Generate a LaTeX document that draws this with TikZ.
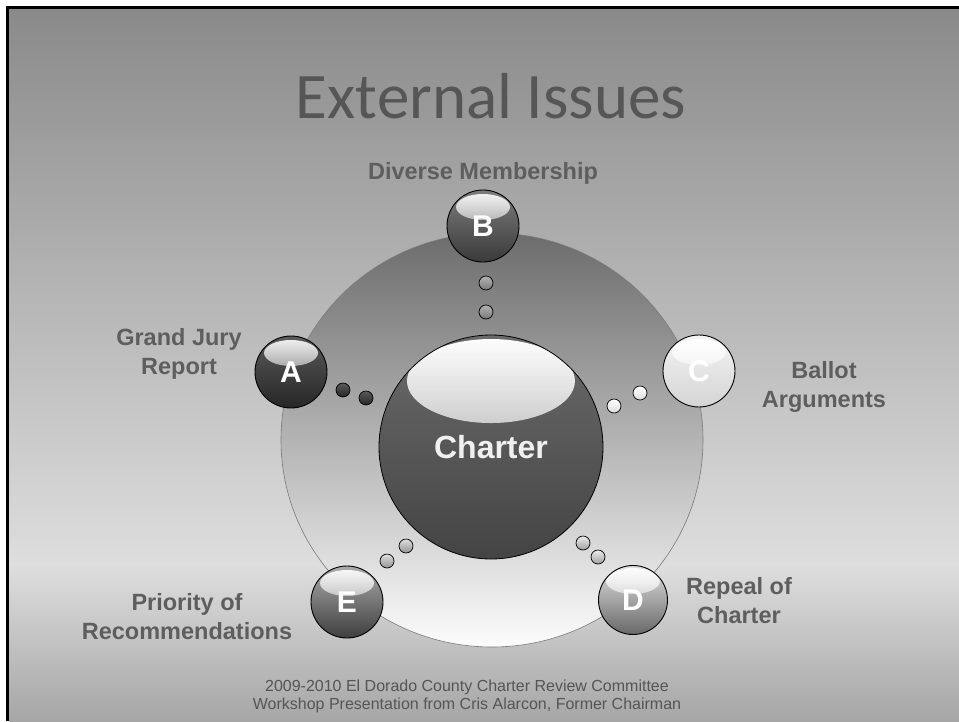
\documentclass[tikz,border=0pt]{standalone}
\usepackage{fontspec}
\setmainfont{Liberation Sans}
\newfontfamily\titlefont{Carlito}
\usetikzlibrary{shapes.geometric,fadings}
\tikzfading[name=hlfade, top color=transparent!5, bottom color=transparent!100]
\tikzfading[name=bigfade, top color=transparent!0, bottom color=transparent!75]
\definecolor{bgtop}{HTML}{8A8A8A}
\definecolor{bgmid}{HTML}{DEDEDE}
\definecolor{bgbot}{HTML}{A6A6A6}
\definecolor{ringtop}{HTML}{6C6C6C}
\definecolor{ringmid}{HTML}{ACACAC}
\definecolor{ringbot}{HTML}{FCFCFC}
\definecolor{ringline}{HTML}{7A7A7A}
\definecolor{chtop}{HTML}{6A6A6A}
\definecolor{chmid}{HTML}{7A7A7A}
\definecolor{chbot}{HTML}{444444}
\definecolor{labgray}{HTML}{5E5E5E}
\definecolor{titlegray}{HTML}{565656}
\definecolor{footgray}{HTML}{555555}
\definecolor{Atop}{HTML}{5A5A5A}\definecolor{Abot}{HTML}{262626}
\definecolor{Btop}{HTML}{7C7C7C}\definecolor{Bbot}{HTML}{3A3A3A}
\definecolor{Ctop}{HTML}{F4F4F4}\definecolor{Cbot}{HTML}{D4D4D4}
\definecolor{Dtop}{HTML}{E0E0E0}\definecolor{Dbot}{HTML}{686868}
\definecolor{Etop}{HTML}{ABABAB}\definecolor{Ebot}{HTML}{3E3E3E}
\tikzset{
  bubble/.style={circle, draw=black, line width=0.9pt, minimum size=72pt, inner sep=0pt,
    font=\fontsize{30}{30}\selectfont\bfseries, text=white,
    path picture={\fill[white, path fading=hlfade]
      (path picture bounding box.center) ++(0,-19) ellipse [x radius=27, y radius=13];}},
  dotball/.style={circle, draw=black, line width=0.7pt, minimum size=14pt, inner sep=0pt},
  lab/.style={font=\fontsize{23.5}{29}\selectfont\bfseries, text=labgray, align=center, inner sep=0pt},
}
\begin{document}
\begin{tikzpicture}[x=1pt,y=-1pt]
\useasboundingbox (0,0) rectangle (959,721);
\fill[white] (0,0) rectangle (959,721);
\shade[top color=bgtop, bottom color=bgmid] (9,9) rectangle (959,565);
\shade[top color=bgmid, bottom color=bgbot] (9,564.5) rectangle (959,721);
\fill[black] (6,6) rectangle (959,9);
\fill[black] (6,6) rectangle (9,721);

% title
\node[font=\titlefont\fontsize{65}{65}\selectfont, text=titlegray, anchor=base, inner sep=0pt] (title) at (491,118) {External Issues};

% outer ring
\node[ellipse, minimum width=422pt, minimum height=414pt, inner sep=0pt, draw=ringline, line width=0.6pt,
  top color=ringtop, middle color=ringmid, bottom color=ringbot] (ring) at (492,440) {};

% charter sphere
\node[circle, minimum size=224pt, inner sep=0pt, draw=black, line width=0.8pt,
  top color=chtop, middle color=chmid, bottom color=chbot,
  path picture={\fill[white, path fading=bigfade]
    (path picture bounding box.center) ++(0,-66) ellipse [x radius=84, y radius=42];},
  font=\fontsize{32}{32}\selectfont\bfseries, text=white!94!black] (charter) at (491,447) {Charter};

% satellites
\node[bubble, top color=Atop, bottom color=Abot] (A) at (291,372) {A};
\node[bubble, top color=Btop, bottom color=Bbot] (B) at (483,226) {B};
\node[bubble, top color=Ctop, bottom color=Cbot] (C) at (699,371) {C};
\node[bubble, top color=Dtop, bottom color=Dbot, minimum size=69pt] (D) at (633,600) {D};
\node[bubble, top color=Etop, bottom color=Ebot] (E) at (347,602) {E};

% dots
\node[dotball, top color=Atop, bottom color=Abot] (a1) at (343,390) {};
\node[dotball, top color=Atop, bottom color=Abot] (a2) at (366,398) {};
\node[dotball, top color=gray!60, bottom color=gray!95!black] (b1) at (486,283) {};
\node[dotball, top color=gray!60, bottom color=gray!95!black] (b2) at (486,312) {};
\node[dotball, top color=white, bottom color=Cbot!80!white] (c1) at (640,393) {};
\node[dotball, top color=white, bottom color=Cbot!80!white] (c2) at (614,406) {};
\node[dotball, top color=gray!15, bottom color=gray!75] (d1) at (583,543) {};
\node[dotball, top color=gray!15, bottom color=gray!75] (d2) at (598,557) {};
\node[dotball, top color=gray!25, bottom color=gray!85] (e1) at (406,546) {};
\node[dotball, top color=gray!25, bottom color=gray!85] (e2) at (387,561) {};

% labels
\node[lab] (lB) at (483,173) {Diverse Membership};
\node[lab] (lA) at (179,354) {Grand Jury\\Report};
\node[lab] (lC) at (824,387) {Ballot\\Arguments};
\node[lab] (lD) at (739,601) {Repeal of\\Charter};
\node[lab] (lE) at (187,617) {Priority of\\Recommendations};

% footer
\node[font=\fontsize{16}{18}\selectfont, text=footgray, align=center, inner sep=0pt] (foot) at (467,696)
  {2009-2010 El Dorado County Charter Review Committee\\Workshop Presentation from Cris Alarcon, Former Chairman};
\end{tikzpicture}
\end{document}
